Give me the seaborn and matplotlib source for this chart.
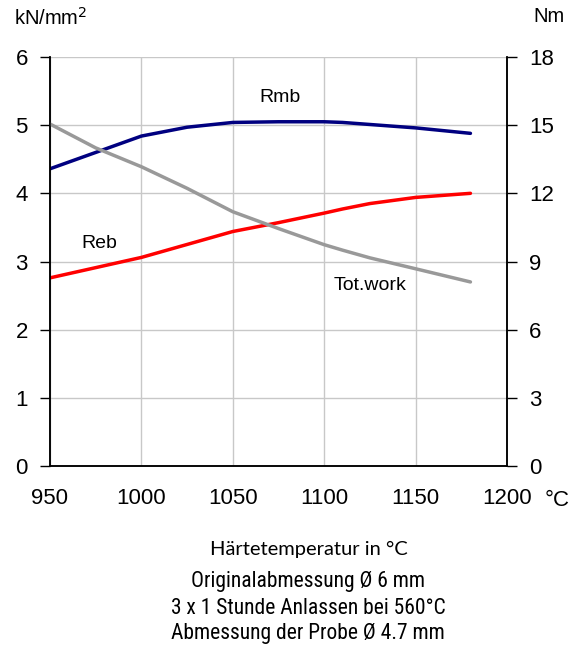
import matplotlib
matplotlib.use("Agg")
import matplotlib.pyplot as plt
import pandas as pd
import seaborn as sns

# values
temp = [950, 975, 1000, 1025, 1050, 1075, 1100, 1110, 1125, 1150, 1180]
rmb = [4.36, 4.60, 4.84, 4.97, 5.04, 5.05, 5.05, 5.04, 5.01, 4.96, 4.88]
reb = [2.76, 2.91, 3.06, 3.25, 3.44, 3.57, 3.71, 3.77, 3.85, 3.94, 4.00]
tot_work = [15.05, 14.0, 13.17, 12.22, 11.19, 10.45, 9.74, 9.50, 9.16, 8.68, 8.10]

x_ticks = [950, 1000, 1050, 1100, 1150, 1200]
left_ticks = [0, 1, 2, 3, 4, 5, 6]
right_ticks = [0, 3, 6, 9, 12, 15, 18]

notes = [
    "Originalabmessung Ø 6 mm",
    "3 x 1 Stunde Anlassen bei 560°C",
    "Abmessung der Probe Ø 4.7 mm",
]

df = pd.DataFrame({"temp": temp, "rmb": rmb, "reb": reb, "tot": tot_work})

sns.set_theme(style="white")
plt.rcParams["font.family"] = ["Liberation Sans", "DejaVu Sans"]
plt.rcParams["text.color"] = "black"

NARROW = ["Roboto Condensed", "Liberation Sans Narrow", "DejaVu Sans"]

W, H = 584, 657
fig = plt.figure(figsize=(W / 100, H / 100), dpi=100)
ax = fig.add_axes([50 / W, (H - 466) / H, 457 / W, 409 / H])
ax2 = ax.twinx()

sns.lineplot(data=df, x="temp", y="rmb", ax=ax, color="#000080", lw=2.5)
sns.lineplot(data=df, x="temp", y="reb", ax=ax, color="#ff0000", lw=2.5)
sns.lineplot(data=df, x="temp", y="tot", ax=ax2, color="#999999", lw=2.5)

ax.set_xlim(950, 1200)
ax.set_ylim(0, 6)
ax2.set_ylim(0, 18)
ax.set_xticks(x_ticks)
ax.set_yticks(left_ticks)
ax2.set_yticks(right_ticks)
ax.set_xlabel("")
ax.set_ylabel("")
ax2.set_ylabel("")

ax.grid(True, color="#c8c8c8", lw=1.0)
ax2.grid(False)
ax.set_axisbelow(True)

for a in (ax, ax2):
    for side in ("left", "right", "bottom"):
        a.spines[side].set_color("black")
        a.spines[side].set_linewidth(1.1)
    a.spines["top"].set_visible(False)
    a.tick_params(direction="out", length=7, width=1.0, color="black",
                  labelsize=16, pad=9, labelcolor="black")

ax.text(1076, 5.40, "Rmb", fontsize=14, ha="center", va="center")
ax.text(977, 3.27, "Reb", fontsize=14, ha="center", va="center")
ax.text(1125, 2.65, "Tot.work", fontsize=14, ha="center", va="center")

fig.text(14 / W, 1 - 18 / H, "kN/mm$^2$", fontsize=14.5, ha="left", va="center")
fig.text(533 / W, 1 - 17 / H, "Nm", fontsize=14.5, ha="left", va="center")
fig.text(545 / W, 1 - 500 / H, "°C", fontsize=16, ha="left", va="center")

fig.text(309 / W, 1 - 549 / H, "Härtetemperatur in °C", fontsize=14.5,
         ha="center", va="center", family=["Lato", "DejaVu Sans"])
for i, line in enumerate(notes):
    fig.text(308 / W, 1 - (582 + 26 * i) / H, line, fontsize=15.5,
             ha="center", va="center", family=NARROW)

fig.savefig("out.png", dpi=100)
plt.close(fig)
